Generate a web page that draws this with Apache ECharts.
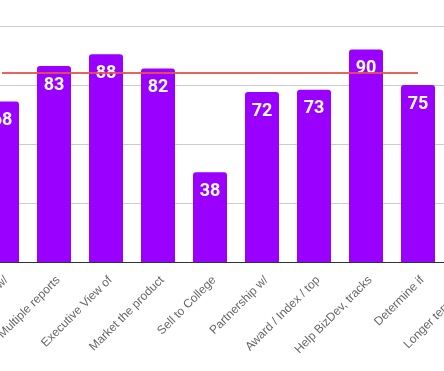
<!DOCTYPE html>
<html>
<head>
<meta charset="utf-8">
<script src="https://cdn.jsdelivr.net/npm/echarts@6/dist/echarts.min.js"></script>
<style>
html,body{margin:0;padding:0;background:#fff;}
#chart{width:444px;height:371px;}
</style>
</head>
<body>
<div id="chart"></div>
<script>
var categories = ["Overview w/", "Multiple reports", "Executive View of", "Market the product", "Sell to College", "Partnership w/", "Award / Index / top", "Help BizDev, tracks", "Determine if", "Longer term goals"];
var scores = [68, 83, 88, 82, 38, 72, 73, 90, 75, 70];
var targetValue = 80;
var targetStart = "Overview w/";
var targetEnd = "Determine if";
var yTicks = [0, 25, 50, 75, 100];

var chart = echarts.init(document.getElementById('chart'), null, {renderer: 'canvas'});
chart.setOption({
  animation: false,
  grid: {left: -24, right: -52, top: 26, bottom: 109, outerBoundsMode: 'none', containLabel: false},
  xAxis: {
    type: 'category',
    data: categories,
    axisTick: {show: false},
    axisLine: {lineStyle: {color: '#333', width: 1}},
    axisLabel: {
      rotate: 45,
      interval: 0,
      margin: 12,
      color: '#666',
      fontSize: 12,
      verticalAlign: 'top',
      fontFamily: 'Liberation Sans, Arial, sans-serif'
    }
  },
  yAxis: {
    type: 'value',
    min: yTicks[0],
    max: yTicks[yTicks.length - 1],
    interval: 25,
    axisLabel: {show: false},
    axisLine: {show: false},
    axisTick: {show: false},
    splitLine: {lineStyle: {color: '#cccccc', width: 1}}
  },
  series: [{
    type: 'bar',
    data: scores,
    barWidth: 34,
    itemStyle: {color: '#9900ff', borderRadius: [3, 3, 0, 0]},
    label: {
      show: true,
      position: 'insideTop',
      distance: 10,
      color: '#fff',
      fontSize: 18,
      fontWeight: 'bold',
      fontFamily: 'Roboto, sans-serif'
    },
    markLine: {
      silent: true,
      symbol: 'none',
      z: 5,
      label: {show: false},
      lineStyle: {color: '#e5534b', width: 2, type: 'solid', opacity: 0.9},
      data: [[{coord: [targetStart, targetValue]}, {coord: [targetEnd, targetValue]}]]
    }
  }]
});
</script>
</body>
</html>
